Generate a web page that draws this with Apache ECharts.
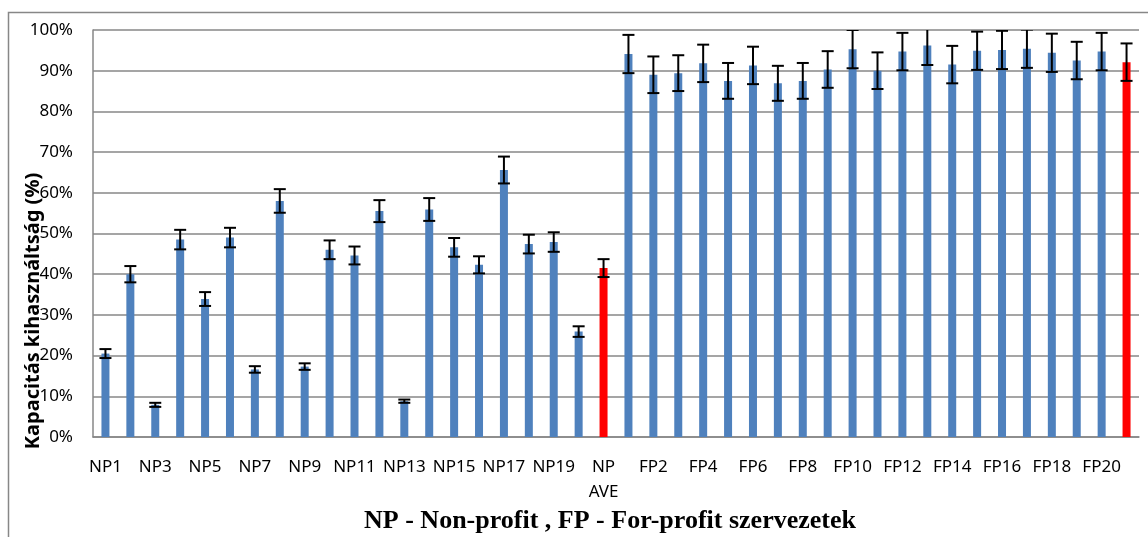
<!DOCTYPE html>
<html>
<head>
<meta charset="utf-8">
<script src="https://cdn.jsdelivr.net/npm/echarts@6/dist/echarts.min.js"></script>
<style>
  html, body { margin: 0; padding: 0; background: #fff; }
  #chart { width: 1148px; height: 537px; }
</style>
</head>
<body>
<div id="chart"></div>
<script>
// Non-profit organisations (NP1..NP20) and average
const npValues = [20.5, 40.0, 7.9, 48.5, 33.9, 49.0, 16.6, 58.0, 17.3, 46.0, 44.6, 55.5, 8.8, 55.9, 46.6, 42.3, 65.6, 47.4, 47.9, 25.9];
const npErrors = [1.1, 2.0, 0.5, 2.4, 1.7, 2.4, 0.8, 2.9, 0.8, 2.3, 2.2, 2.7, 0.4, 2.8, 2.3, 2.1, 3.3, 2.3, 2.4, 1.3];
const npAverage = 41.5;
const npAverageError = 2.2;

// For-profit organisations (FP1..FP20) and average
const fpValues = [94.1, 89.0, 89.4, 91.8, 87.5, 91.3, 86.9, 87.5, 90.3, 95.3, 90.0, 94.7, 96.2, 91.5, 94.9, 95.1, 95.4, 94.4, 92.5, 94.7];
const fpErrors = [4.7, 4.5, 4.4, 4.6, 4.4, 4.6, 4.3, 4.4, 4.5, 4.7, 4.5, 4.6, 4.8, 4.6, 4.7, 4.7, 4.7, 4.7, 4.6, 4.6];
const fpAverage = 92.1;
const fpAverageError = 4.6;

const npLabels = npValues.map((_, i) => 'NP' + (i + 1));
const fpLabels = fpValues.map((_, i) => 'FP' + (i + 1));
const categories = [...npLabels, 'NP\nAVE', ...fpLabels, 'FP\nAVE'];

const values = [...npValues, npAverage, ...fpValues, fpAverage];
const errors = [...npErrors, npAverageError, ...fpErrors, fpAverageError];
const averageIdx = [npValues.length, categories.length - 1];

const blue = '#4F81BD';
const red = '#FF0000';
const gridGray = '#878787';

const chart = echarts.init(document.getElementById('chart'));

const barData = values.map((v, i) => ({
  value: v,
  itemStyle: { color: averageIdx.includes(i) ? red : blue }
}));

const errData = values.map((v, i) => [i, v - errors[i], v + errors[i]]);

const option = {
  animation: false,
  textStyle: { fontFamily: 'Noto Sans' },
  grid: { left: 93, right: 9, top: 30, bottom: 100 },
  xAxis: {
    type: 'category',
    data: categories,
    axisLine: { lineStyle: { color: gridGray, width: 1.5 } },
    axisTick: { show: false },
    axisLabel: {
      interval: 1,
      color: '#000',
      fontSize: 17,
      margin: 18,
      lineHeight: 25
    }
  },
  yAxis: {
    type: 'value',
    min: 0,
    max: 100,
    interval: 10,
    axisLine: { show: true, lineStyle: { color: gridGray, width: 1.5 } },
    axisTick: { show: false },
    axisLabel: {
      formatter: '{value}%',
      color: '#000',
      fontSize: 17,
      margin: 20
    },
    splitLine: { lineStyle: { color: gridGray, width: 1.5 } }
  },
  series: [
    {
      type: 'bar',
      data: barData,
      barWidth: 8
    },
    {
      type: 'custom',
      clip: true,
      data: errData,
      z: 5,
      renderItem: function (params, api) {
        const x = api.coord([api.value(0), 0])[0];
        const lo = api.coord([api.value(0), api.value(1)])[1];
        const hi = api.coord([api.value(0), api.value(2)])[1];
        const half = 6;
        const style = { stroke: '#000', lineWidth: 2 };
        return {
          type: 'group',
          children: [
            { type: 'line', shape: { x1: x, y1: lo, x2: x, y2: hi }, style: style },
            { type: 'line', shape: { x1: x - half, y1: lo, x2: x + half, y2: lo }, style: style },
            { type: 'line', shape: { x1: x - half, y1: hi, x2: x + half, y2: hi }, style: style }
          ]
        };
      }
    }
  ],
  graphic: [
    {
      type: 'rect',
      shape: { x: 8.5, y: 12.5, width: 1200, height: 600 },
      style: { fill: 'none', stroke: gridGray, lineWidth: 1.5 },
      silent: true,
      z: -1
    },
    {
      type: 'text',
      x: 33,
      y: 311,
      rotation: Math.PI / 2,
      style: {
        text: 'Kapacitás kihasználtság (%)',
        fontFamily: 'Noto Sans',
        fontWeight: 'bold',
        fontSize: 20,
        fill: '#000',
        align: 'center',
        verticalAlign: 'middle'
      },
      z: 10
    },
    {
      type: 'text',
      x: 610,
      y: 521,
      style: {
        text: 'NP - Non-profit , FP - For-profit szervezetek',
        fontFamily: 'Liberation Serif',
        fontWeight: 'bold',
        fontSize: 26,
        fill: '#000',
        align: 'center',
        verticalAlign: 'middle'
      }
    }
  ]
};

chart.setOption(option);
</script>
</body>
</html>
